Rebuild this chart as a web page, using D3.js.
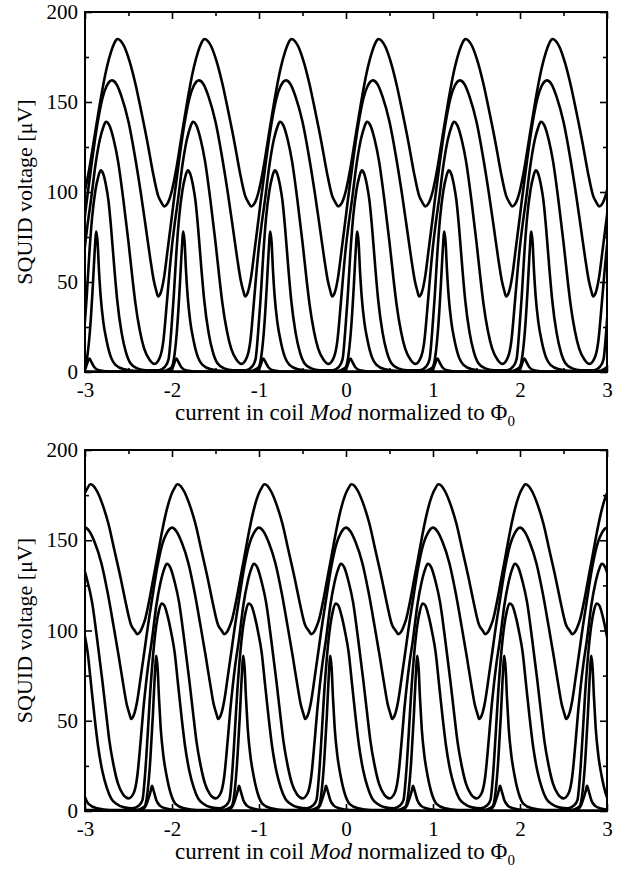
<!DOCTYPE html>
<html>
<head>
<meta charset="utf-8">
<script src="https://cdn.jsdelivr.net/npm/d3@7"></script>
<style>
  body { margin: 0; background: #fff; }
  svg text { font-family: "Liberation Serif", "Times New Roman", serif; fill: #000; }
</style>
</head>
<body>
<svg id="chart" width="628" height="870"></svg>
<script>
// Tick values
const xTicks = [-3, -2, -1, 0, 1, 2, 3];
const xMinor = [-2.5, -1.5, -0.5, 0.5, 1.5, 2.5];
const yTicks = [0, 50, 100, 150, 200];
const yMinor = [25, 75, 125, 175];

// One flux period of each curve: [phase, voltage in µV]
// upper panel
const topA = [[0.00,101],[0.05,113],[0.10,128],[0.15,143],[0.20,157],[0.25,169],[0.30,178],[0.34,183],[0.37,185],[0.41,184],[0.45,181],[0.51,173],[0.58,160],[0.65,144],[0.72,127],[0.78,111],[0.84,98],[0.88,94],[0.91,92],[0.94,93],[0.97,96]];
const topB = [[0.00,87],[0.02,95],[0.08,117],[0.14,137],[0.20,152],[0.25,159],[0.31,162],[0.36,160],[0.42,153],[0.50,139],[0.57,121],[0.64,100],[0.70,80],[0.75,63],[0.79,51],[0.82,45],[0.84,42],[0.87,44],[0.91,53],[0.95,68]];
const topC = [[0.00,70],[0.03,82],[0.07,96],[0.12,115],[0.17,129],[0.21,136],[0.24,139],[0.28,137],[0.33,129],[0.38,117],[0.44,96],[0.50,72],[0.55,50],[0.58,38],[0.63,23],[0.68,13],[0.74,7],[0.80,4.5],[0.86,8],[0.90,17],[0.94,38],[0.97,55]];
const topD = [[0.02,42],[0.05,66],[0.08,85],[0.12,101],[0.15,108],[0.18,112],[0.21,110],[0.24,104],[0.27,95],[0.30,80],[0.34,56],[0.37,40],[0.42,22],[0.47,11],[0.52,5],[0.60,2],[0.70,1],[0.85,1],[0.92,3],[0.96,7],[0.99,22]];
const topE = [[0.00,3],[0.03,10],[0.06,25],[0.09,48],[0.11,66],[0.13,78],[0.145,72],[0.16,57],[0.18,42],[0.21,28],[0.25,17],[0.30,8],[0.35,4],[0.45,1.5],[0.60,0.5],[0.90,0.5],[0.96,1.5]];
const topF = [[0.00,1.5],[0.02,4],[0.05,7.5],[0.08,5],[0.11,2.5],[0.16,1],[0.30,0.3],[0.90,0.3],[0.96,0.8]];
const topG = [[0.00,0.3],[0.50,0.3]];

// lower panel
const botA = [[0.03,179],[0.06,181],[0.10,180],[0.14,177],[0.20,170],[0.27,159],[0.34,144],[0.41,129],[0.47,115],[0.53,103],[0.57,100],[0.60,98],[0.63,99],[0.66,102],[0.69,106],[0.74,117],[0.79,130],[0.84,143],[0.89,156],[0.94,167],[0.99,175]];
const botB = [[0.00,157],[0.05,155],[0.11,149],[0.19,137],[0.26,121],[0.33,102],[0.39,85],[0.44,70],[0.48,59],[0.51,54],[0.53,51],[0.56,53],[0.60,61],[0.64,74],[0.69,91],[0.71,98],[0.77,117],[0.83,135],[0.89,148],[0.94,154]];
const botC = [[0.03,127],[0.08,116],[0.14,95],[0.20,72],[0.25,51],[0.28,39],[0.33,25],[0.38,15],[0.44,9],[0.50,7],[0.56,10],[0.60,19],[0.64,39],[0.67,56],[0.70,70],[0.73,82],[0.77,95],[0.82,114],[0.87,127],[0.91,134],[0.94,137],[0.98,135]];
const botD = [[0.03,88],[0.07,70],[0.11,52],[0.15,36],[0.20,22],[0.25,13],[0.30,7],[0.36,4],[0.45,2],[0.55,1.5],[0.62,3],[0.66,6],[0.69,20],[0.72,42],[0.75,66],[0.78,85],[0.82,103],[0.85,111],[0.88,115],[0.91,114],[0.95,108],[0.99,99]];
const botE = [[0.04,4],[0.14,1.5],[0.29,0.5],[0.59,0.5],[0.65,1.5],[0.69,3],[0.72,11],[0.75,28],[0.78,53],[0.80,73],[0.82,86],[0.835,79],[0.85,63],[0.87,46],[0.90,31],[0.94,19],[0.99,9]];
const botF = [[0.05,0.5],[0.50,0.3],[0.66,1],[0.70,3],[0.73,7],[0.76,12],[0.77,14],[0.79,11],[0.82,6],[0.86,3],[0.92,1.5]];
const botG = [[0.00,0.3],[0.50,0.3]];

const topCurves = [topA, topB, topC, topD, topE, topF, topG];
const botCurves = [botA, botB, botC, botD, botE, botF, botG];

const svg = d3.select("#chart");
const xScale = d3.scaleLinear().domain([-3, 3]).range([85, 607]);

// repeat one period over the whole x range (the curves are periodic in flux)
function tile(period) {
    const pts = [];
    for (let k = -4; k <= 3; k++) {
        period.forEach(p => pts.push([k + p[0], p[1]]));
    }
    pts.sort((a, b) => a[0] - b[0]);
    return pts.filter(p => p[0] > -3.4 && p[0] < 3.4);
}

function drawPanel(curves, yTop, yBottom, id) {
    const yScale = d3.scaleLinear().domain([0, 200]).range([yBottom, yTop]);
    const g = svg.append("g");

    g.append("clipPath").attr("id", id)
        .append("rect")
        .attr("x", 85).attr("y", yTop)
        .attr("width", 522).attr("height", yBottom - yTop);

    const line = d3.line()
        .x(d => xScale(d[0]))
        .y(d => yScale(d[1]))
        .curve(d3.curveMonotoneX);

    const plot = g.append("g").attr("clip-path", `url(#${id})`);
    curves.forEach(c => {
        plot.append("path")
            .datum(tile(c))
            .attr("d", line)
            .attr("fill", "none")
            .attr("stroke", "#000")
            .attr("stroke-width", 2.6);
    });

    // axes: ticks point inward on all four sides
    const fontAttrs = sel => sel
        .attr("font-family", "'Liberation Serif', 'Times New Roman', serif")
        .attr("font-size", 21);

    g.append("g").attr("transform", `translate(0,${yBottom})`)
        .call(d3.axisBottom(xScale).tickValues(xTicks).tickSize(-7).tickPadding(10).tickFormat(d => String(d)))
        .call(fontAttrs);
    g.append("g").attr("transform", `translate(0,${yBottom})`)
        .call(d3.axisBottom(xScale).tickValues(xMinor).tickSize(-4).tickFormat(""));
    g.append("g").attr("transform", `translate(0,${yTop})`)
        .call(d3.axisTop(xScale).tickValues(xTicks).tickSize(-7).tickFormat(""));
    g.append("g").attr("transform", `translate(0,${yTop})`)
        .call(d3.axisTop(xScale).tickValues(xMinor).tickSize(-4).tickFormat(""));

    g.append("g").attr("transform", "translate(85,0)")
        .call(d3.axisLeft(yScale).tickValues(yTicks).tickSize(-7).tickPadding(7).tickFormat(d => String(d)))
        .call(fontAttrs);
    g.append("g").attr("transform", "translate(85,0)")
        .call(d3.axisLeft(yScale).tickValues(yMinor).tickSize(-4).tickFormat(""));
    g.append("g").attr("transform", "translate(607,0)")
        .call(d3.axisRight(yScale).tickValues(yTicks).tickSize(-7).tickFormat(""));
    g.append("g").attr("transform", "translate(607,0)")
        .call(d3.axisRight(yScale).tickValues(yMinor).tickSize(-4).tickFormat(""));

    g.selectAll(".domain").remove();
    g.selectAll(".tick line").attr("stroke-width", 1.6);

    // frame
    g.append("rect")
        .attr("x", 85).attr("y", yTop)
        .attr("width", 522).attr("height", yBottom - yTop)
        .attr("fill", "none")
        .attr("stroke", "#000")
        .attr("stroke-width", 2);

    // axis titles
    g.append("text")
        .attr("text-anchor", "middle")
        .attr("transform", `translate(32,${(yTop + yBottom) / 2})rotate(-90)`)
        .style("font-size", "22px")
        .text("SQUID voltage [\u03BCV]");

    const xt = g.append("text")
        .attr("x", 345)
        .attr("y", yBottom + 48)
        .attr("text-anchor", "middle")
        .style("font-size", "23px");
    xt.append("tspan").text("current in coil ");
    xt.append("tspan").style("font-style", "italic").text("Mod");
    xt.append("tspan").text(" normalized to \u03A6");
    xt.append("tspan").attr("dy", "0.4em").style("font-size", "15px").text("0");
}

drawPanel(topCurves, 12, 372, "clipTop");
drawPanel(botCurves, 450, 811, "clipBot");
</script>
</body>
</html>
